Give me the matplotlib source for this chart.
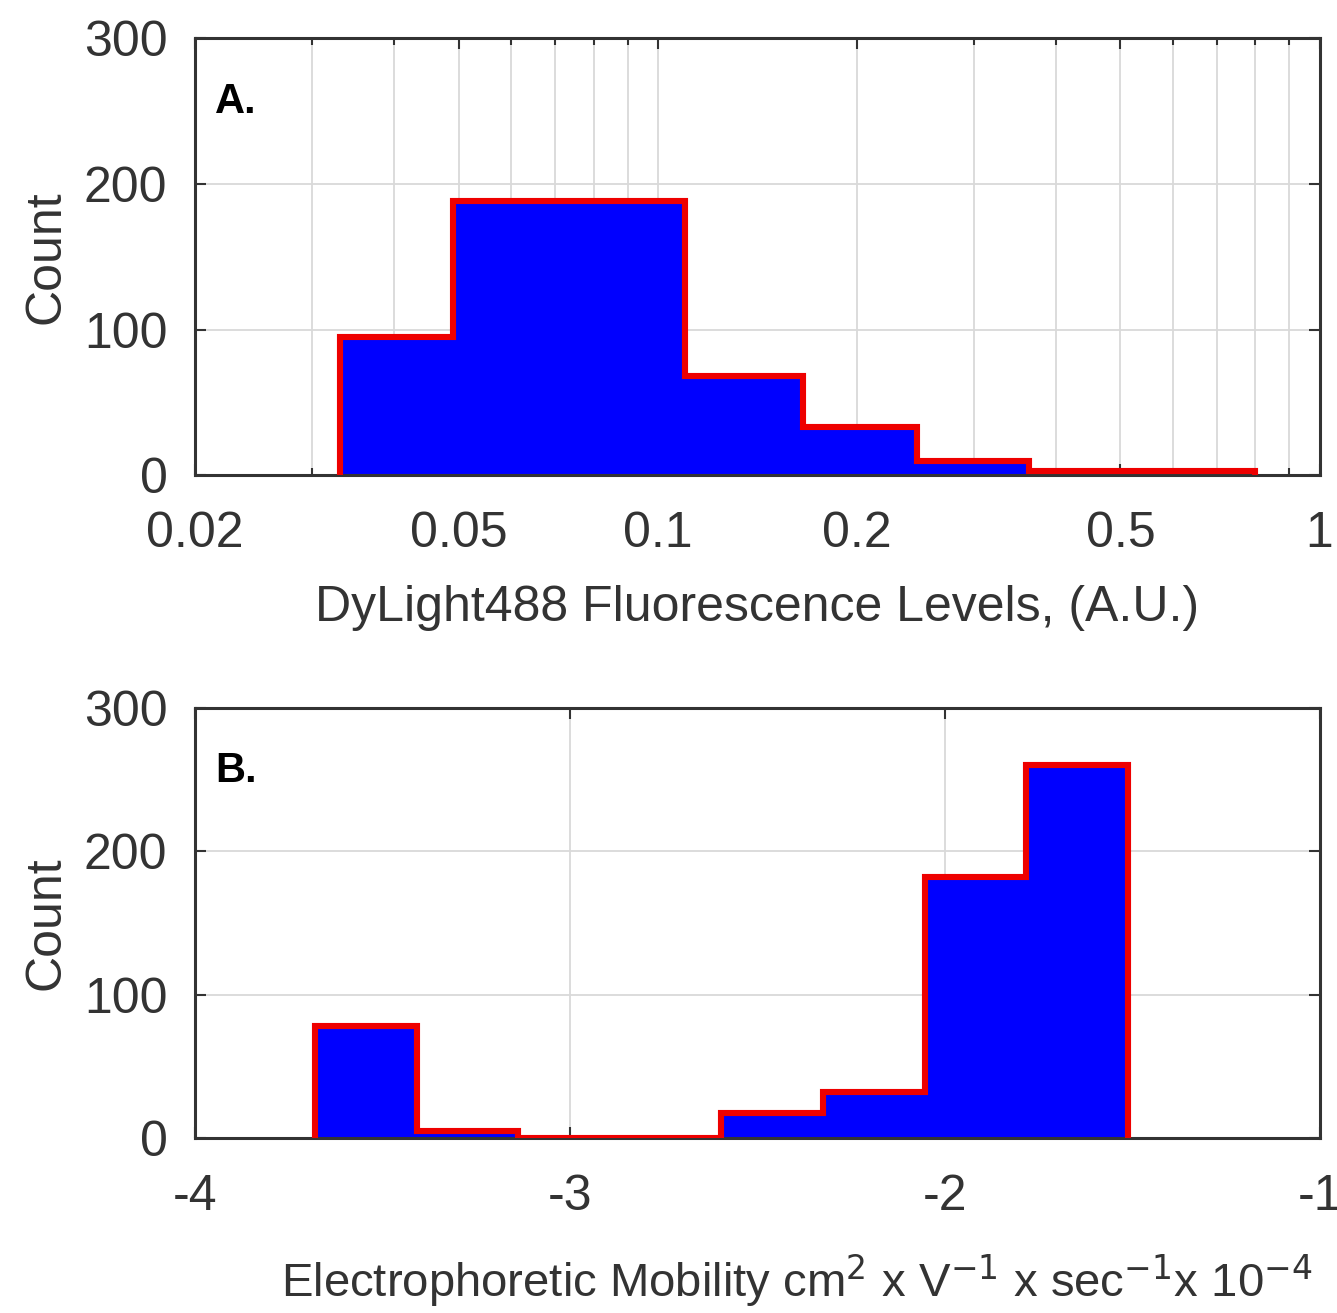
import matplotlib.pyplot as plt
import numpy as np

plt.rcParams['font.family'] = ['Liberation Sans', 'DejaVu Sans']
plt.rcParams['axes.unicode_minus'] = False

# panel A: fluorescence histogram (log-spaced bins)
fluor_edges = [0.0331, 0.049, 0.0735, 0.11, 0.166, 0.246, 0.364, 0.54, 0.80]
fluor_counts = [95, 188, 188, 68, 33, 10, 3, 3]

# panel B: electrophoretic mobility histogram
mob_edges = [-3.68, -3.409, -3.138, -2.867, -2.596, -2.325, -2.054, -1.783, -1.512]
mob_counts = [78, 5, 0, 0, 18, 32, 182, 260]

fluor_ticks = [0.02, 0.05, 0.1, 0.2, 0.5, 1]
fluor_ticklabels = ["0.02", "0.05", "0.1", "0.2", "0.5", "1"]
mob_ticks = [-4, -3, -2, -1]
count_ticks = [0, 100, 200, 300]

TXT = "#333333"
FS = 36

fig = plt.figure(figsize=(13.37, 13.13), dpi=100)
ax1 = fig.add_axes([0.146, 0.638, 0.841, 0.333])
ax2 = fig.add_axes([0.146, 0.133, 0.841, 0.328])


def style(ax):
    ax.tick_params(which="both", direction="in", top=True, right=True,
                   labelsize=FS, labelcolor=TXT, color="#333333", width=1.5)
    ax.tick_params(which="major", length=8)
    ax.tick_params(which="minor", length=5)
    ax.tick_params(axis="y", which="major", pad=20)
    ax.tick_params(axis="x", which="major", pad=26)
    for s in ax.spines.values():
        s.set_linewidth(2.2)
        s.set_color("#333333")
    ax.set_axisbelow(True)
    ax.set_ylim(0, 300)
    ax.set_yticks(count_ticks)
    ax.set_ylabel("Count", fontsize=FS, color=TXT, labelpad=10)


def hist(ax, counts, edges):
    ax.stairs(counts, edges, fill=True, color="#0000ff", zorder=2)
    ax.stairs(counts, edges, baseline=0, color="#ee0000", lw=4.4, zorder=3)


# --- A ---
hist(ax1, fluor_counts, fluor_edges)
ax1.set_xscale("log")
ax1.set_xlim(0.02, 1)
ax1.set_xticks(fluor_ticks)
ax1.set_xticklabels(fluor_ticklabels)
ax1.xaxis.set_minor_formatter(plt.NullFormatter())
ax1.grid(True, which="major", color="#d9d9d9", lw=1.3)
ax1.grid(True, which="minor", axis="x", color="#d9d9d9", lw=1.3)
style(ax1)
ax1.set_xlabel("DyLight488 Fluorescence Levels, (A.U.)", fontsize=FS, color=TXT, labelpad=20)
ax1.text(0.018, 0.9, "A.", transform=ax1.transAxes, fontsize=30,
         fontweight="bold", va="top", color="black")

# --- B ---
hist(ax2, mob_counts, mob_edges)
ax2.set_xlim(-4, -1)
ax2.set_xticks(mob_ticks)
ax2.grid(True, color="#d9d9d9", lw=1.3)
style(ax2)
ax2.set_xlabel(r"Electrophoretic Mobility cm$^2$ x V$^{-1}$ x sec$^{-1}$x 10$^{-4}$",
               fontsize=34, color=TXT)
ax2.xaxis.set_label_coords(0.535, -0.265)
ax2.text(0.018, 0.9, "B.", transform=ax2.transAxes, fontsize=30,
         fontweight="bold", va="top", color="black")

fig.savefig("out.png", dpi=100, facecolor="white")
